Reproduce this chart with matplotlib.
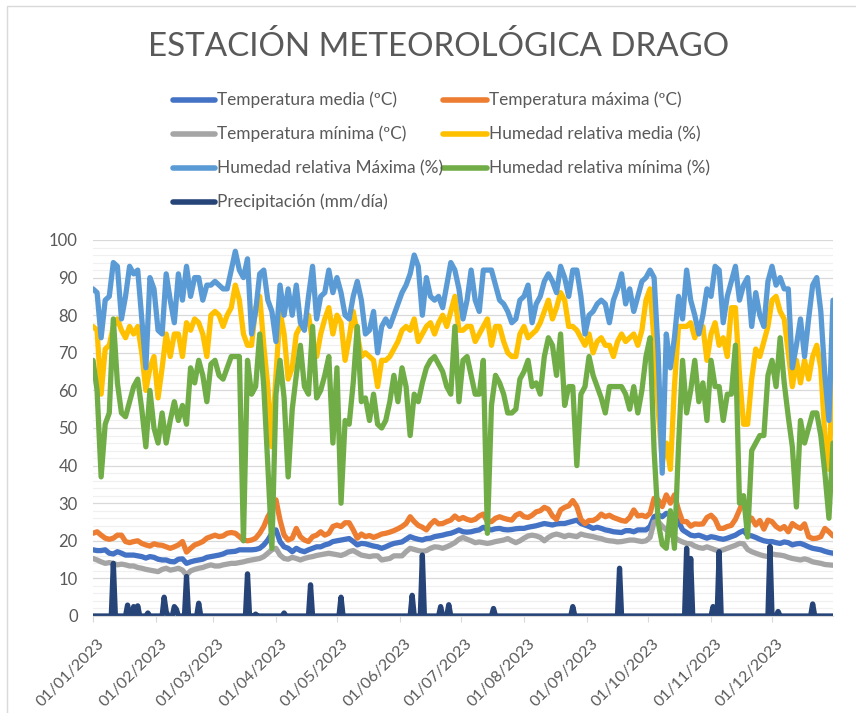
import numpy as np
import pandas as pd
import matplotlib
matplotlib.use('Agg')
import matplotlib.pyplot as plt
import matplotlib.dates as mdates
import matplotlib.transforms as mtransforms
from matplotlib.lines import Line2D
from matplotlib.patches import Rectangle

# Lato en lugar de Calibri
plt.rcParams['font.family'] = ['Lato', 'DejaVu Sans']

# ---- datos (lecturas cada 2 días desde 01/01/2023) ----
dates = pd.date_range('2023-01-01', periods=183, freq='2D')
days = pd.date_range('2023-01-01', '2023-12-31', freq='D')

hr_max = [87, 86, 74, 84, 85, 94, 93, 79, 85, 93, 91, 92, 79, 66, 90, 87, 76, 75, 91, 84, 78, 91, 84, 93, 85, 90, 90, 84, 88, 88, 89,
          88, 87, 87, 92, 97, 92, 90, 95, 75, 81, 91, 92, 84, 81, 73, 88, 80, 87, 80, 88, 78, 76, 85, 93, 79, 85, 86, 92, 86, 90, 86,
          80, 79, 85, 89, 84, 75, 76, 81, 70, 77, 79, 77, 80, 83, 86, 88, 91, 96, 93, 80, 90, 85, 84, 85, 82, 88, 94, 92, 87, 79,
          84, 92, 84, 81, 92, 92, 92, 88, 84, 83, 81, 78, 79, 84, 85, 88, 78, 83, 85, 89, 91, 89, 86, 93, 90, 85, 92, 92, 85, 75, 80,
          81, 83, 84, 83, 78, 84, 87, 91, 83, 87, 81, 85, 89, 90, 92, 90, 70, 38, 75, 66, 74, 85, 79, 92, 84, 80, 75, 80, 87, 85, 93,
          92, 78, 85, 89, 93, 84, 88, 90, 77, 86, 80, 77, 89, 93, 88, 90, 87, 87, 66, 72, 79, 69, 79, 88, 90, 81, 64, 52, 84]

hr_media = [77, 76, 59, 71, 72, 77, 79, 76, 74, 77, 75, 77, 70, 60, 66, 69, 58, 66, 75, 69, 75, 75, 69, 78, 76, 79, 78, 75, 69, 80, 81,
            80, 77, 80, 82, 88, 84, 75, 72, 72, 82, 85, 72, 61, 45, 64, 81, 75, 63, 66, 75, 77, 77, 80, 73, 69, 75, 79, 82, 75, 80, 78,
            68, 74, 81, 75, 69, 70, 69, 68, 61, 68, 68, 69, 71, 73, 76, 77, 76, 79, 73, 75, 77, 78, 75, 78, 80, 77, 81, 85, 76, 76,
            77, 77, 73, 75, 77, 79, 72, 77, 77, 73, 70, 69, 69, 75, 77, 74, 75, 76, 78, 81, 84, 79, 82, 86, 84, 77, 77, 76, 74, 72, 75,
            70, 73, 74, 72, 72, 69, 73, 75, 73, 74, 75, 72, 76, 84, 87, 73, 55, 41, 46, 39, 61, 77, 77, 77, 78, 74, 77, 77, 68, 75, 78,
            72, 74, 69, 82, 82, 64, 51, 51, 63, 71, 69, 73, 77, 84, 85, 81, 79, 70, 61, 68, 62, 68, 63, 69, 72, 66, 48, 39, 66]

hr_min = [68, 60, 37, 51, 54, 79, 62, 54, 53, 57, 61, 63, 55, 45, 60, 50, 46, 54, 46, 52, 57, 52, 56, 51, 66, 62, 68, 64, 57, 67, 68,
          64, 63, 66, 69, 69, 69, 20, 68, 59, 61, 75, 61, 40, 18, 59, 68, 58, 37, 55, 64, 72, 61, 59, 77, 58, 60, 64, 69, 46, 66, 30,
          52, 51, 62, 77, 57, 58, 52, 59, 51, 50, 52, 57, 64, 57, 66, 61, 48, 59, 57, 62, 66, 68, 69, 67, 65, 61, 59, 77, 57, 68,
          69, 64, 59, 59, 68, 22, 56, 64, 62, 59, 54, 54, 55, 63, 65, 68, 61, 62, 59, 69, 74, 72, 64, 75, 56, 61, 61, 40, 59, 61, 69,
          64, 61, 58, 54, 61, 61, 61, 61, 59, 55, 61, 54, 60, 69, 74, 44, 25, 19, 18, 28, 18, 45, 68, 54, 60, 68, 57, 62, 52, 68, 61,
          61, 52, 59, 59, 72, 30, 32, 21, 44, 46, 48, 48, 64, 68, 61, 74, 62, 53, 45, 29, 52, 46, 50, 54, 54, 48, 38, 26, 46]

t_max = [22, 22.4, 21.5, 20.7, 20.4, 20.7, 21.5, 21.5, 19.8, 19.5, 19.8, 20, 19.3, 18.9, 18.6, 19.2, 18.9, 18.8, 18.4, 18, 18.4,
         18.9, 19.8, 17, 18, 18.9, 19.3, 19.8, 20.7, 21.1, 21.5, 21.1, 21.3, 22, 22.2, 22, 21.1, 20.2, 20, 20.2, 20.7, 22, 23.8,
         26.4, 28.2, 30.9, 25.5, 21.5, 20.2, 20.7, 23.3, 21.1, 20.2, 19.8, 21.1, 21.5, 22.4, 21.5, 22, 23.8, 24.2,
         23.8, 24.8, 24.8, 22.9, 20.7, 21.8, 21.1, 21.4, 20.9, 21.3, 21.8, 22, 22.3, 22.7, 23.2, 23.8, 24.6, 26.4, 25.1, 24.1,
         23.6, 22.9, 24.4, 25.4, 24.5, 24.6, 25.1, 25.5, 26.6, 25.7, 26.2, 25.7, 25.4, 25.7, 26.6, 27.1, 25.1, 25.1, 26, 26.4,
         26, 25.7, 25.5, 26.8, 27.3, 26.4, 26.2, 26.8, 27.7, 28, 28.9, 28.4, 26.6, 25.7, 28.2, 28.9, 29.3, 30.7, 29.1, 25.7,
         24.6, 25.4, 25.4, 26, 27.1, 26.4, 26.8, 26.2, 25.8, 25.4, 25.2, 26.2, 28.2, 26.6, 26.8, 26.4, 27.3, 31.3, 30.9, 29.1,
         32.2, 30, 32.2, 28.2, 25.1, 25.1, 23.9, 24.5, 24.4, 24.5, 26.2, 26.8, 25.7, 23.3, 23.3, 23.8, 24.1, 25.7, 28.2, 30.7,
         26.4, 26, 24.2, 25.4, 23.1, 25.5, 25.1, 23.8, 23.1, 23.8, 22.4, 24.6, 23.8, 23.3, 24.5, 21.1, 20.6, 20.7, 21.1, 23.3,
         22.4, 21.3]

t_media = [17.6, 17.4, 17.4, 17.6, 16.7, 16.5, 17.1, 16.7, 16.2, 16.2, 16.2, 16, 15.8, 15.4, 15.8, 15.6, 15.1, 14.9, 14.9, 14.5,
           14.4, 15.1, 15.2, 14, 14.4, 14.7, 14.9, 15.1, 15.6, 15.8, 16, 16.2, 16.5, 17, 17.1, 17.2, 17.6, 17.6, 17.6, 17.6, 17.7,
           18, 18.9, 20.2, 22, 22.9, 19.8, 18.4, 18, 17.1, 18, 17.4, 17.1, 17.6, 18, 18.4, 18.4, 18.9, 19.2, 19.8, 20,
           20.2, 20.4, 20.6, 19.8, 18.9, 19.3, 19.2, 18.9, 18.6, 18.4, 18, 18.4, 18.9, 19.3, 19.5, 19.7, 20.4, 21.1, 20.7, 20.4,
           20.2, 20.6, 20.7, 21.1, 21.3, 21.5, 21.8, 22, 22.4, 22.9, 22.4, 22.3, 22.4, 22.7, 22.9, 23.6, 23, 22.9, 23.2, 23.3,
           23, 22.9, 23, 23.2, 23.3, 23.3, 23.6, 23.8, 24, 24.3, 24.6, 24.4, 24.2, 24.5, 24.6, 24.6, 24.9, 25.2, 25.5, 24.6,
           24.2, 23.8, 23.3, 23.6, 23.3, 22.9, 22.7, 22.4, 22.3, 22.2, 22.7, 22.7, 22.4, 22.9, 22.9, 22.9, 23.8, 26.4, 26.9, 26.4,
           27.3, 26.9, 26.4, 25.1, 22.9, 22.2, 21.5, 21.3, 21.5, 21.1, 20.7, 21.1, 20.9, 20.6, 20.4, 20.7, 21.1, 21.5, 22.2, 22.7,
           21.5, 21.3, 20.9, 20.4, 20, 19.8, 19.8, 19.5, 19.3, 19.7, 19.5, 18.9, 19.2, 19.3, 18.9, 18.4, 18, 17.8, 17.6, 17.2,
           16.9, 16.7]

t_min = [15.3, 14.9, 14.4, 14, 14.2, 14, 13.6, 13.8, 13.6, 13.3, 13.3, 12.9, 12.7, 12.4, 12.2, 12, 11.8, 12.4, 12.7, 12.2,
         12.4, 12.7, 12.2, 10.9, 12, 12.4, 12.7, 12.9, 13.3, 13.6, 13.3, 13.3, 13.6, 13.8, 14, 14, 14.2, 14.4, 14.7, 14.9, 15.1,
         15.3, 15.8, 16.7, 17.6, 18, 16.2, 15.3, 15.1, 15.6, 15.3, 14.9, 15.3, 15.6, 15.8, 16.1, 16.3, 16.5, 16.7, 16.5, 16.3,
         16.1, 16.5, 17.1, 17.4, 16.8, 16.2, 16, 15.8, 16, 16, 14.9, 15.1, 15.3, 16, 16, 16, 17.1, 18, 17.7, 17.4,
         17.2, 17.4, 18, 18.4, 18.3, 18, 18.4, 18.9, 19.5, 20.4, 20.9, 20.4, 20, 19.5, 19.7, 19.5, 19.3, 19.5, 19.8, 20,
         20.2, 20.6, 20, 19.5, 20, 20.7, 21.3, 21.5, 21.3, 20.9, 20, 20.9, 21.5, 21.8, 21.5, 21.1, 21.5, 21.3, 21.1, 21.8,
         21.5, 21.3, 21.1, 20.8, 20.6, 20.2, 20, 19.9, 19.7, 19.8, 20, 20.2, 20.2, 20, 19.8, 20, 20.9, 25, 25.1, 23.9,
         22.9, 21.8, 20.9, 20.2, 19.7, 19.3, 19.2, 18.6, 18.2, 18, 18.4, 18, 17.6, 17.3, 17.6, 18, 18.4, 18.8, 19.3, 19.2,
         17.7, 17.1, 16.7, 16.3, 16, 15.8, 16.5, 16.3, 16.2, 16, 15.6, 15.3, 15.1, 14.9, 15.2, 14.9, 14.4, 14.2, 14, 13.7,
         13.6, 13.5]

# precipitación diaria: días con lluvia (índice de día del año) y mm
lluvia_dia = [10, 17, 20, 22, 27, 35, 36, 40, 41, 46, 52, 76, 80, 94, 107, 122, 157, 162, 171, 175, 197, 236, 259, 292, 294, 305, 308, 333, 337, 354]
lluvia_mm = [14, 2.9, 2.5, 2.7, 0.8, 5, 1.2, 2.5, 1.8, 10.5, 3.4, 11.2, 0.5, 0.8, 8.3, 5, 5.5, 16.2, 2.5, 3, 2, 2.5, 12.7, 18, 15.3, 2.5, 17.1, 18.5, 1.2, 3.2]
precip = np.zeros(len(days))
precip[lluvia_dia] = lluvia_mm

series = [
    ('Temperatura media (ºC)', dates, t_media, '#4472C4'),
    ('Temperatura máxima (ºC)', dates, t_max, '#ED7D31'),
    ('Temperatura mínima (ºC)', dates, t_min, '#A5A5A5'),
    ('Humedad relativa media (%)', dates, hr_media, '#FFC000'),
    ('Humedad relativa Máxima (%)', dates, hr_max, '#5B9BD5'),
    ('Humedad relativa mínima (%)', dates, hr_min, '#70AD47'),
    ('Precipitación (mm/día)', days, precip, '#264478'),
]

W, H = 856, 713
fig = plt.figure(figsize=(W / 100, H / 100), dpi=100)
TXT = '#595959'
renderer = fig.canvas.get_renderer()


def fit_width(txt, target_px):
    # ajusta el tamaño de letra para que el texto ocupe lo mismo que en el original
    w = txt.get_window_extent(renderer).width
    txt.set_fontsize(txt.get_fontsize() * target_px / w)


# borde del gráfico
fig.add_artist(Rectangle((7.5 / W, -0.01), 1.0, 1 - 5.5 / H + 0.01, transform=fig.transFigure,
                         fill=False, edgecolor='#d9d9d9', lw=1))

title = fig.text(439 / W, 1 - 47 / H, 'ESTACIÓN METEOROLÓGICA DRAGO', ha='center', va='center',
                 fontsize=26, color=TXT, fontweight='normal')
fit_width(title, 582)

ax = fig.add_axes([93 / W, 1 - 616 / H, (833 - 93) / W, (616 - 240) / H])
for label, x, y, c in series:
    ax.plot(x, y, color=c, lw=3.8, solid_joinstyle='round', solid_capstyle='round', label=label)

ax.set_ylim(0, 100)
ax.set_xlim(dates[0], dates[-1])
ax.set_yticks(np.arange(0, 101, 10))
ax.set_yticks(np.arange(0, 101, 2), minor=True)
ax.grid(axis='y', which='major', color='#d9d9d9', lw=0.9)
ax.grid(axis='y', which='minor', color='#f0f0f0', lw=0.9)
ax.set_axisbelow(True)
for s in ['left', 'right', 'top']:
    ax.spines[s].set_visible(False)
ax.spines['bottom'].set_color('#d9d9d9')

ax.xaxis.set_major_locator(mdates.MonthLocator())
ax.xaxis.set_major_formatter(mdates.DateFormatter('%d/%m/%Y'))
ax.tick_params(axis='x', colors='#d9d9d9', length=4, labelcolor=TXT, labelsize=11.5, pad=11)
ax.tick_params(axis='y', which='both', length=0, labelcolor=TXT, labelsize=12, pad=11)
shift = mtransforms.ScaledTranslation(4 / 100, 0, fig.dpi_scale_trans)
for t in ax.get_xticklabels():
    t.set_rotation(45)
    t.set_ha('right')
    t.set_rotation_mode('anchor')
    t.set_transform(t.get_transform() + shift)

# leyenda
rows = [100, 134, 168, 202]
cols = [(173, 215), (443, 487)]
for k, (label, _, _, c) in enumerate(series):
    r, col = divmod(k, 2)
    x0, x1 = cols[col]
    y = 1 - rows[r] / H
    fig.add_artist(Line2D([x0 / W, x1 / W], [y, y], transform=fig.transFigure, color=c, lw=4,
                          solid_capstyle='round'))
    t = fig.text((x1 + 2) / W, y, label, ha='left', va='center', fontsize=13, color=TXT)
    if k == 0:
        fit_width(t, 179)
        legend_size = t.get_fontsize()
    else:
        t.set_fontsize(legend_size)

fig.savefig('out.png', dpi=100)
